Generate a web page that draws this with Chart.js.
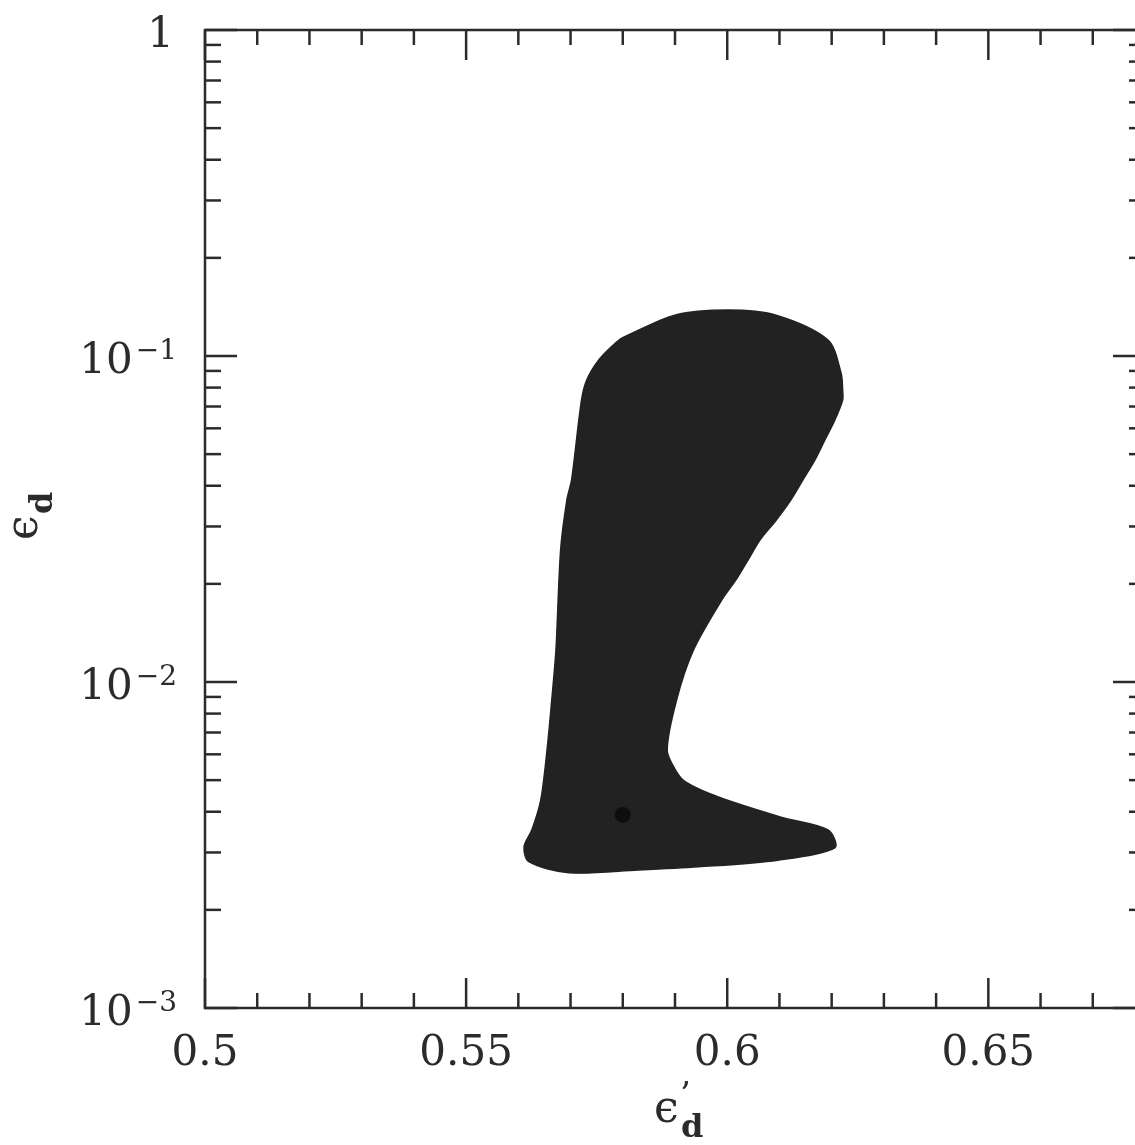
<!DOCTYPE html>
<html>
<head>
<meta charset="utf-8">
<script src="https://cdn.jsdelivr.net/npm/chart.js@4.4.1/dist/chart.umd.min.js"></script>
<style>
  html, body { margin: 0; padding: 0; background: #fff; overflow: hidden; }
  canvas { display: block; }
</style>
</head>
<body>
<canvas id="chart1" width="1160" height="1145"></canvas>
<script>
'use strict'

// boundary of the allowed region (clockwise from top left)
const regionX = [0.5798, 0.5901, 0.6002, 0.6092, 0.6193, 0.6218, 0.6221, 0.6221, 0.6206, 0.6187,
	0.6168, 0.6145, 0.6122, 0.6094, 0.6063, 0.6040, 0.6017, 0.5990, 0.5935, 0.5903,
	0.5885, 0.5901, 0.5920, 0.5983, 0.6103, 0.6193, 0.6206, 0.6097, 0.5945, 0.5830,
	0.5697, 0.5620, 0.5611, 0.5626, 0.5643, 0.5655, 0.5664, 0.5672, 0.5681, 0.5693,
	0.5702, 0.5721, 0.5731, 0.5754, 0.5782, 0.5798]
const regionY = [0.1135, 0.1336, 0.1384, 0.1336, 0.1119, 0.0887, 0.0786, 0.0733, 0.0636, 0.0553,
	0.0480, 0.0417, 0.0362, 0.0314, 0.0273, 0.0237, 0.0206, 0.0179, 0.0125, 0.00881,
	0.00619, 0.00537, 0.00494, 0.00444, 0.00385, 0.00352, 0.00310, 0.00284, 0.00271, 0.00265,
	0.00260, 0.00281, 0.00312, 0.00352, 0.00435, 0.00619, 0.00881, 0.0125, 0.0254, 0.0362,
	0.0417, 0.0733, 0.0844, 0.0972, 0.1081, 0.1135]

// best fit point
const bestX = [0.5800]
const bestY = [0.00391]

const xMajorTicks = [0.5, 0.55, 0.6, 0.65]
const xMajorLabels = ['0.5', '0.55', '0.6', '0.65']
const xMinorTicks = [0.51, 0.52, 0.53, 0.54, 0.56, 0.57, 0.58, 0.59, 0.61, 0.62, 0.63, 0.64, 0.66, 0.67]
const yMajorTicks = [0.001, 0.01, 0.1, 1]
const yMajorExp = ['−3', '−2', '−1', null]
const yMinorTicks = [0.002, 0.003, 0.004, 0.005, 0.006, 0.007, 0.008, 0.009,
	0.02, 0.03, 0.04, 0.05, 0.06, 0.07, 0.08, 0.09,
	0.2, 0.3, 0.4, 0.5, 0.6, 0.7, 0.8, 0.9]

const INK = '#2b2b2b'
const SERIF = '"DejaVu Serif", "Liberation Serif", serif'

const toPoints = (xs, ys) => xs.map((x, i) => ({ x: x, y: ys[i] }))

// frame, inward ticks and labels
const framePlugin = {
	id: 'frame',
	afterDraw(chart) {
		const ctx = chart.ctx
		const a = chart.chartArea
		const xs = chart.scales.x
		const ys = chart.scales.y
		ctx.save()
		ctx.strokeStyle = INK
		ctx.lineWidth = 2.5
		ctx.strokeRect(a.left, a.top, a.right - a.left, a.bottom - a.top)

		const tick = (x1, y1, x2, y2) => {
			ctx.beginPath()
			ctx.moveTo(x1, y1)
			ctx.lineTo(x2, y2)
			ctx.stroke()
		}
		xMajorTicks.forEach(v => {
			const px = xs.getPixelForValue(v)
			tick(px, a.bottom, px, a.bottom - 30)
			tick(px, a.top, px, a.top + 30)
		})
		xMinorTicks.forEach(v => {
			const px = xs.getPixelForValue(v)
			tick(px, a.bottom, px, a.bottom - 15)
			tick(px, a.top, px, a.top + 15)
		})
		yMajorTicks.forEach(v => {
			const py = ys.getPixelForValue(v)
			tick(a.left, py, a.left + 32, py)
			tick(a.right, py, a.right - 32, py)
		})
		yMinorTicks.forEach(v => {
			const py = ys.getPixelForValue(v)
			tick(a.left, py, a.left + 16, py)
			tick(a.right, py, a.right - 16, py)
		})

		ctx.fillStyle = INK
		ctx.textBaseline = 'alphabetic'

		// x tick labels
		ctx.font = '42px ' + SERIF
		ctx.textAlign = 'center'
		xMajorTicks.forEach((v, i) => {
			ctx.fillText(xMajorLabels[i], xs.getPixelForValue(v), a.bottom + 57)
		})

		// y tick labels, 10 with superscript exponent
		const rightEdge = 177
		yMajorTicks.forEach((v, i) => {
			const py = ys.getPixelForValue(v)
			if (yMajorExp[i] === null) {
				ctx.font = '42px ' + SERIF
				ctx.textAlign = 'right'
				ctx.fillText('1', rightEdge - 3, py + 17)
				return
			}
			ctx.font = '28px ' + SERIF
			const w = ctx.measureText(yMajorExp[i]).width
			ctx.textAlign = 'left'
			ctx.fillText(yMajorExp[i], rightEdge - w, py + 3)
			ctx.font = '42px ' + SERIF
			ctx.textAlign = 'right'
			ctx.fillText('10', rightEdge - w - 3, py + 17)
		})

		// x axis title
		ctx.textAlign = 'left'
		ctx.font = '44px ' + SERIF
		ctx.fillText('ϵ', 654, 1122)
		ctx.font = '34px ' + SERIF
		ctx.fillText('’', 680, 1106)
		ctx.font = 'bold 32px ' + SERIF
		ctx.fillText('d', 681, 1137)

		// y axis title
		ctx.translate(37, 540)
		ctx.rotate(-Math.PI / 2)
		ctx.font = '44px ' + SERIF
		ctx.fillText('ϵ', 0, 0)
		ctx.font = 'bold 32px ' + SERIF
		ctx.fillText('d', 26, 15)
		ctx.restore()
	}
}

const ctx = document.getElementById('chart1').getContext('2d')
const regionChart = new Chart(ctx, {
	type: 'scatter',
	data: {
		datasets: [
			{
				label: 'best fit',
				data: toPoints(bestX, bestY),
				pointRadius: 8,
				pointBackgroundColor: '#0e0e0e',
				pointBorderWidth: 0,
				order: 0
			},
			{
				label: 'allowed region',
				data: toPoints(regionX, regionY),
				showLine: true,
				fill: 'shape',
				backgroundColor: '#222222',
				borderColor: '#222222',
				borderWidth: 1.5,
				tension: 0.3,
				pointRadius: 0,
				order: 1
			}
		]
	},
	options: {
		responsive: false,
		devicePixelRatio: 1,
		animation: false,
		layout: {
			padding: { left: 205, top: 30, right: 15, bottom: 137 }
		},
		scales: {
			x: { type: 'linear', min: 0.5, max: 0.68, display: false },
			y: { type: 'logarithmic', min: 0.001, max: 1, display: false }
		},
		plugins: {
			legend: { display: false },
			tooltip: { enabled: false }
		}
	},
	plugins: [framePlugin]
})
</script>
</body>
</html>
